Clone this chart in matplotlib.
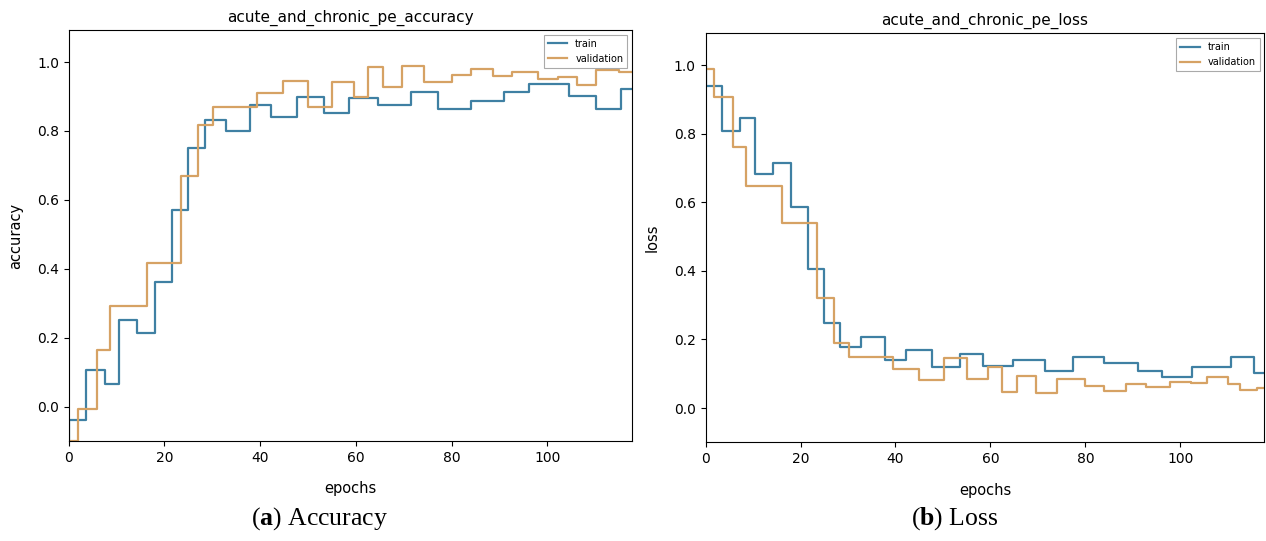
import matplotlib
matplotlib.use("Agg")
from matplotlib import pyplot as plt

# accuracy curves: step boundaries (epochs) and the level held on each step
acc_train_edges = [0, 0, 3.7, 7.6, 10.5, 14.3, 18.1, 21.6, 25.0, 28.5, 32.8, 37.9, 42.3,
                   47.7, 53.3, 58.5, 64.7, 71.5, 77.2, 84.0, 90.9, 96.1, 104.6, 110.2,
                   115.4, 117.7]
acc_train = [-0.1, -0.04, 0.107, 0.065, 0.252, 0.215, 0.363, 0.572, 0.752, 0.833, 0.800,
             0.874, 0.840, 0.899, 0.852, 0.895, 0.874, 0.913, 0.865, 0.888, 0.913, 0.935,
             0.902, 0.865, 0.923]

acc_val_edges = [0, 1.85, 5.8, 8.6, 16.3, 23.5, 27.1, 30.2, 39.4, 44.8, 50.0, 55.0, 59.5,
                 62.6, 65.6, 69.7, 74.3, 80.1, 84.1, 88.6, 92.7, 98.1, 102.3, 106.2, 110.2,
                 115.0, 117.7]
acc_val = [-0.1, -0.008, 0.164, 0.292, 0.417, 0.669, 0.816, 0.869, 0.910, 0.944, 0.870,
           0.941, 0.900, 0.985, 0.929, 0.989, 0.941, 0.963, 0.979, 0.960, 0.971, 0.951,
           0.956, 0.934, 0.976, 0.970]

# loss curves
loss_train_edges = [0, 0, 3.55, 7.3, 10.4, 14.2, 18.0, 21.5, 25.0, 28.4, 32.8, 37.8, 42.3,
                    47.6, 53.5, 58.5, 64.7, 71.4, 77.3, 84.0, 91.1, 96.1, 102.5, 110.7,
                    115.4, 117.7]
loss_train = [0.996, 0.938, 0.807, 0.846, 0.683, 0.714, 0.586, 0.405, 0.247, 0.177, 0.206,
              0.141, 0.170, 0.121, 0.159, 0.123, 0.141, 0.109, 0.149, 0.130, 0.109, 0.091,
              0.120, 0.149, 0.101]

loss_val_edges = [0, 1.7, 5.8, 8.5, 16.2, 23.4, 27.1, 30.3, 39.5, 44.9, 50.2, 55.1, 59.5,
                  62.5, 65.5, 69.6, 74.1, 80.0, 84.0, 88.6, 92.7, 97.9, 102.2, 105.6, 110.1,
                  112.6, 116.1, 117.7]
loss_val = [0.990, 0.908, 0.761, 0.648, 0.540, 0.321, 0.191, 0.148, 0.114, 0.081, 0.146,
            0.084, 0.121, 0.046, 0.094, 0.044, 0.084, 0.065, 0.051, 0.069, 0.060, 0.077,
            0.073, 0.091, 0.070, 0.054, 0.059]

blue = '#3f80a3'
orange = '#d6a264'

plt.rcParams['mathtext.fontset'] = 'custom'
plt.rcParams['mathtext.rm'] = 'Liberation Serif'
plt.rcParams['mathtext.bf'] = 'Liberation Serif:bold'

fig = plt.figure(figsize=(12.66, 5.41), dpi=100)
ax1 = fig.add_axes([0.0543, 0.1848, 0.445, 0.7597])
ax2 = fig.add_axes([0.5573, 0.1824, 0.4415, 0.756])


def draw(ax, tr_x, tr_y, va_x, va_y, title, ylabel):
    # where='post' needs the last level repeated at the closing edge
    ax.step(tr_x, tr_y + [tr_y[-1]], where='post', color=blue, lw=1.6, label='train')
    ax.step(va_x, va_y + [va_y[-1]], where='post', color=orange, lw=1.6, label='validation')
    ax.set_xlim(0, 117.7)
    ax.set_ylim(-0.1, 1.093)
    ax.set_xticks([0, 20, 40, 60, 80, 100])
    ax.set_yticks([0.0, 0.2, 0.4, 0.6, 0.8, 1.0])
    ax.tick_params(labelsize=10)
    ax.set_title(title, fontsize=11)
    ax.set_xlabel('epochs', fontsize=10.5, labelpad=12)
    ax.set_ylabel(ylabel, fontsize=10.5, labelpad=10)
    leg = ax.legend(loc='upper right', fontsize=7, fancybox=False, framealpha=1,
                    edgecolor='#aaaaaa', borderpad=0.4, handlelength=2.0)
    leg.get_frame().set_linewidth(0.8)


draw(ax1, acc_train_edges, acc_train, acc_val_edges, acc_val,
     'acute_and_chronic_pe_accuracy', 'accuracy')
draw(ax2, loss_train_edges, loss_train, loss_val_edges, loss_val,
     'acute_and_chronic_pe_loss', 'loss')

fig.text(320 / 1266, 1 - 519 / 541, r'($\mathbf{a}$) Accuracy', ha='center', va='center',
         fontsize=18.5, family='Liberation Serif')
fig.text(955 / 1266, 1 - 519 / 541, r'($\mathbf{b}$) Loss', ha='center', va='center',
         fontsize=18.5, family='Liberation Serif')

fig.savefig('out.png', dpi=100)
